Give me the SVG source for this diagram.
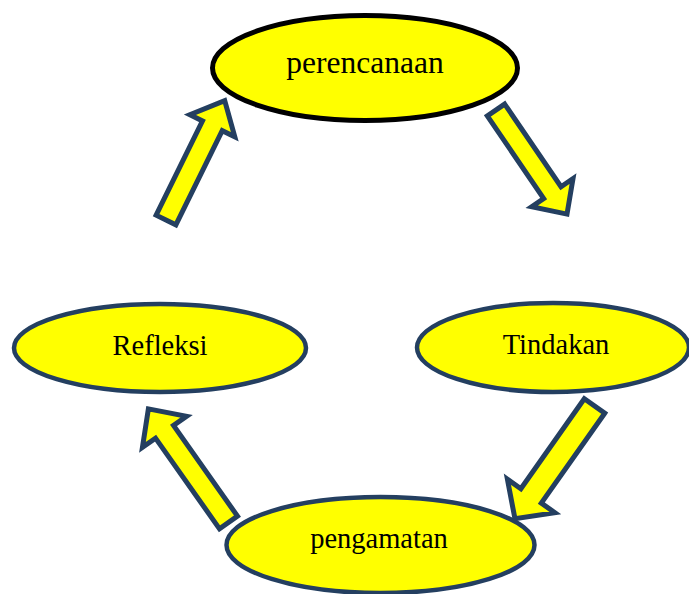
<svg xmlns="http://www.w3.org/2000/svg" width="689" height="594" viewBox="0 0 689 594">
<style>
.node{fill:#ffff00;stroke:#243f60;stroke-width:4.5}
.top{fill:#ffff00;stroke:#000;stroke-width:5}
.lbl{font-family:"Liberation Serif","Times New Roman",serif;fill:#000;text-anchor:middle}
.arr{fill:#ffff00;stroke:#243f60;stroke-width:5;stroke-linejoin:miter}
</style>
<rect width="689" height="594" fill="#fff"/>
<g id="refleksi">
<ellipse class="node" cx="160" cy="348" rx="146" ry="44"/>
<text class="lbl" x="160" y="355" font-size="28.5">Refleksi</text>
</g>
<g id="tindakan">
<ellipse class="node" cx="553" cy="347.5" rx="136" ry="44.5"/>
<text class="lbl" x="556" y="354" font-size="28.5">Tindakan</text>
</g>
<g id="pengamatan">
<ellipse class="node" cx="380.5" cy="545" rx="154" ry="48"/>
<text class="lbl" x="379" y="548" font-size="28.5">pengamatan</text>
</g>
<g id="connectors">
<path class="arr" transform="translate(166,220) rotate(-63.8)" d="M0,-11 L105,-11 L105,-25 L133,0 L105,25 L105,11 L0,11 Z"/>
<path class="arr" transform="translate(496,110) rotate(55.7)" d="M0,-10.5 L100,-10.5 L100,-25 L126,0 L100,25 L100,10.5 L0,10.5 Z"/>
<path class="arr" transform="translate(594.5,406) rotate(125.2)" d="M0,-12.5 L110,-12.5 L110,-29 L138,0 L110,29 L110,12.5 L0,12.5 Z"/>
<path class="arr" transform="translate(228.5,522.5) rotate(-125.2)" d="M0,-11 L111,-11 L111,-27 L139,0 L111,27 L111,11 L0,11 Z"/>
</g>
<g id="perencanaan">
<ellipse class="top" cx="365" cy="68" rx="152.5" ry="52.5"/>
<text class="lbl" x="365" y="73" font-size="31.5">perencanaan</text>
</g>
</svg>
